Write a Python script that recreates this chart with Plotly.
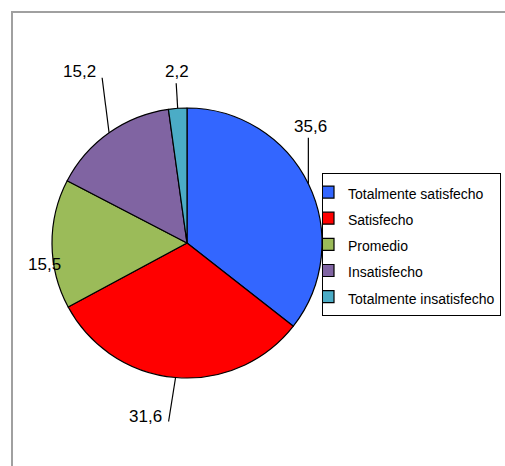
import math
import plotly.graph_objects as go

# ---- data ----
categories = ["Totalmente satisfecho", "Satisfecho", "Promedio", "Insatisfecho", "Totalmente insatisfecho"]
values = [35.6, 31.6, 15.5, 15.2, 2.2]
colors = ["#3366FF", "#FF0000", "#9BBB59", "#8064A2", "#4BACC6"]

# ---- layout constants ----
W, H = 505, 466
CX, CY, R = 187, 243, 135  # pie centre / radius in pixels
# label placement relative to the slice's outer mid point: (text dx, text dy, line dx, line dy)
label_offsets = [(2, -57, 0, -46), (-30, 39, -7, 44), (-8, 20, 0, 0), (-29.5, -61, -7, -55), (-0.5, -37, -1.5, -25)]
FONT = "Liberation Sans, Arial, sans-serif"


def px(x):
    return x / W


def py(y):
    return 1 - y / H


legend_labels = [f'<span style="font-size:14px">{c}</span>' for c in categories]

fig = go.Figure(
    go.Pie(
        labels=legend_labels,
        values=values,
        sort=False,
        direction="clockwise",
        rotation=0,
        marker=dict(colors=colors, line=dict(color="black", width=1.2)),
        textinfo="none",
        hoverinfo="label+value",
        domain=dict(x=[px(CX - R), px(CX + R)], y=[py(CY + R), py(CY - R)]),
    )
)

annotations = []
shapes = []
total = sum(values)
cum = 0.0
for v, (tdx, tdy, ldx, ldy) in zip(values, label_offsets):
    mid = (cum + v / 2) / total * 2 * math.pi
    cum += v
    ex = CX + R * math.sin(mid)
    ey = CY - R * math.cos(mid)
    annotations.append(dict(
        x=px(ex + tdx), y=py(ey + tdy), xref="paper", yref="paper",
        text=f"{v:.1f}".replace(".", ","), showarrow=False,
        xanchor="center", yanchor="middle",
        font=dict(family=FONT, size=17, color="black"),
    ))
    if ldx or ldy:
        shapes.append(dict(
            type="line", xref="paper", yref="paper",
            x0=px(ex), y0=py(ey), x1=px(ex + ldx), y1=py(ey + ldy),
            line=dict(color="black", width=1.2),
        ))

# outer chart-area border
shapes.append(dict(type="rect", xref="paper", yref="paper",
                   x0=px(12), y0=py(480), x1=px(520), y1=py(12),
                   line=dict(color="#A0A0A0", width=2), layer="below"))

fig.update_layout(
    width=W, height=H,
    margin=dict(l=0, r=0, t=0, b=0, autoexpand=False),
    paper_bgcolor="white", plot_bgcolor="white",
    showlegend=True,
    legend=dict(
        x=px(322), y=py(173), xanchor="left", yanchor="top",
        bordercolor="black", borderwidth=1, bgcolor="white",
        font=dict(family=FONT, size=17.8, color="black"),
        itemwidth=30, indentation=-15,
    ),
    annotations=annotations,
    shapes=shapes,
)

fig.write_html("out.html", config={"displayModeBar": False},
               post_script="document.body.style.margin='0';")
